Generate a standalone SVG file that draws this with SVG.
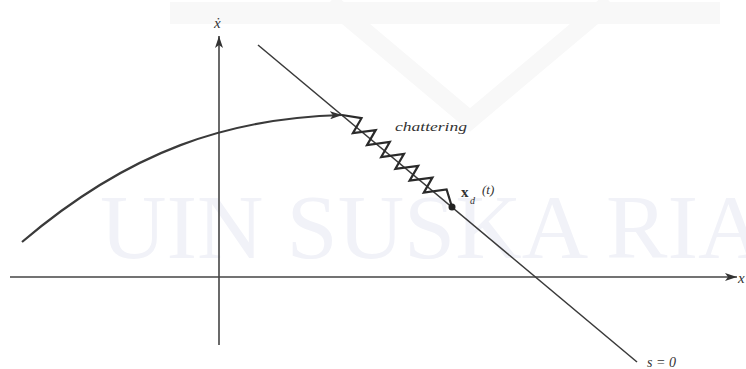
<svg xmlns="http://www.w3.org/2000/svg" width="746" height="369" viewBox="0 0 746 369">
<defs>
<style>
.ax{stroke:#444;stroke-width:1.6;fill:none}
.ln{stroke:#3a3a3a;stroke-width:1.5;fill:none}
.zz{stroke:#2a2a2a;stroke-width:2.2;fill:none;stroke-linejoin:miter}
.cv{stroke:#3a3a3a;stroke-width:2.2;fill:none}
.lb{font-family:"Liberation Serif",serif;font-style:italic;fill:#333}
.wm{font-family:"Liberation Serif",serif;fill:#f1f2f8}
</style>
<marker id="ah" viewBox="0 0 12 8" refX="12" refY="4" markerWidth="12" markerHeight="8" markerUnits="userSpaceOnUse" orient="auto">
<path d="M0,0 L12,4 L0,8 L3,4 Z" fill="#333"/>
</marker>
</defs>
<rect width="746" height="369" fill="#fff"/>
<g id="watermark">
<path d="M170,2 H720 V24 H170 Z" fill="#f8f8f8"/>
<path d="M330,2 L470,120 L610,2" fill="none" stroke="#f8f8f8" stroke-width="18"/>
<text class="wm" x="100" y="258" font-size="92">UIN SUSKA RIAU</text>
</g>
<g id="connectors">
<line class="ax" x1="10" y1="277" x2="737" y2="277" marker-end="url(#ah)"/>
<line class="ax" x1="219" y1="345" x2="219" y2="36" marker-end="url(#ah)"/>
<line class="ln" x1="258" y1="45" x2="637" y2="362"/>
<path class="cv" d="M22,242 C130,150 230,118 342,115" marker-end="url(#ah)"/>
</g>
<g id="chattering">
<polyline class="zz" points="342,115 361.5,118.2 352.9,133.2 375.7,130.1 367,145.1 389.8,142 381.2,157 404,153.9 395.4,168.8 418.2,165.8 409.6,180.7 432.4,177.6 423.8,192.6 446.6,189.5 452,207"/>
<circle cx="452" cy="207" r="3.5" fill="#222"/>
</g>
<g id="labels">
<text class="lb" x="214" y="28" font-size="15">ẋ</text>
<text class="lb" x="738" y="283" font-size="15">x</text>
<text class="lb" x="395" y="131" font-size="13" textLength="72" lengthAdjust="spacingAndGlyphs">chattering</text>
<text x="461" y="197" font-family="Liberation Serif,serif" font-weight="bold" font-size="15" fill="#333">x</text>
<text class="lb" x="470" y="204" font-size="10">d</text>
<text class="lb" x="482" y="194" font-size="13">(t)</text>
<text class="lb" x="647" y="367" font-size="14">s = 0</text>
</g>
</svg>
